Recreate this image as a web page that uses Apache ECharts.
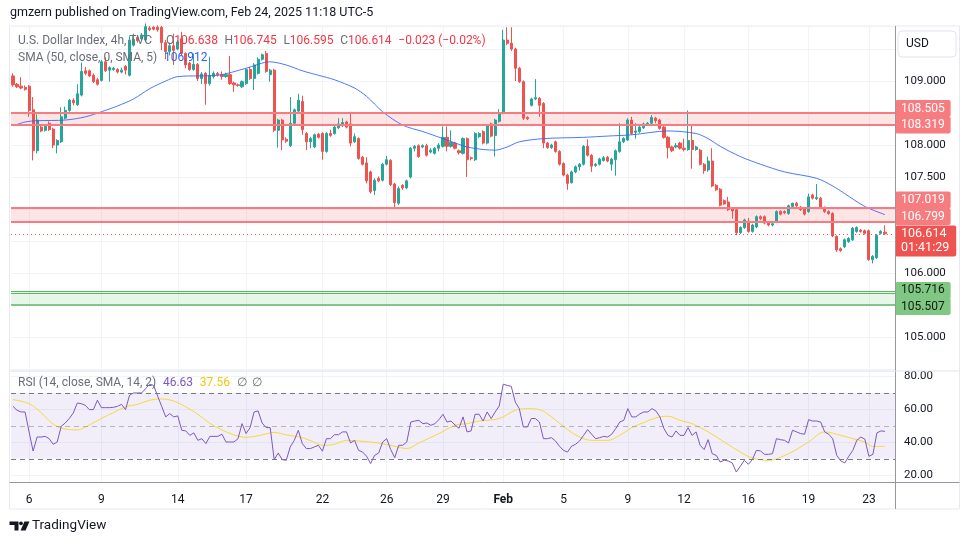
<!DOCTYPE html>
<html><head><meta charset="utf-8">
<script src="https://cdn.jsdelivr.net/npm/echarts@6/dist/echarts.min.js"></script>
<style>html,body{margin:0;padding:0;background:#fff}#c{width:970px;height:545px}</style>
</head><body><div id="c"></div>
<script>
// ---------- data (4h candles, Jan 3 - Feb 24 2025) ----------
const opens = [109.08,108.95,108.92,108.90,108.92,108.55,107.91,108.28,108.23,108.34,108.25,108.00,108.05,108.42,108.54,108.70,108.63,108.78,109.16,109.16,
109.09,109.02,109.01,109.30,109.17,109.18,109.18,109.14,109.23,109.09,109.56,109.68,109.66,109.64,109.83,109.84,109.84,109.84,109.60,109.46,
109.55,109.50,109.66,109.43,109.28,109.18,109.26,109.04,109.12,108.96,109.07,109.12,109.10,109.07,109.10,108.97,108.94,108.91,108.96,109.18,
109.04,109.12,109.34,109.43,109.10,109.17,108.23,108.39,108.09,107.99,108.34,108.53,108.68,108.18,108.05,107.97,108.17,108.18,107.90,108.18,
108.18,108.27,108.30,108.36,108.33,108.05,108.10,107.81,107.72,107.58,107.29,107.48,107.45,107.70,107.76,107.39,107.09,107.37,107.33,107.50,
107.95,107.99,107.97,107.99,107.89,107.87,107.95,107.98,108.12,107.98,108.03,107.91,107.87,108.10,107.80,107.77,108.13,108.21,108.03,108.33,
108.15,108.37,108.50,109.64,109.59,109.50,109.20,108.99,108.43,108.62,108.72,108.73,108.65,108.03,107.96,108.05,107.90,107.71,107.53,107.41,
107.58,107.66,107.70,107.98,107.84,107.68,107.70,107.76,107.81,107.70,107.77,107.90,108.05,108.08,108.39,108.20,108.21,108.27,108.33,108.34,
108.42,108.39,108.28,108.12,107.97,107.97,108.03,107.95,107.93,108.07,107.93,107.92,107.70,107.61,107.75,107.37,107.31,107.13,107.11,107.00,
106.99,106.63,106.71,106.81,106.65,106.72,106.88,106.88,106.78,106.75,106.80,106.96,106.96,106.93,107.04,107.09,107.03,107.01,106.96,107.22,
107.16,107.17,107.02,106.96,106.93,106.57,106.38,106.41,106.49,106.52,106.65,106.67,106.66,106.66,106.21,106.24,106.62,106.638];
const highs = [109.12,108.97,109.06,108.93,108.94,108.75,108.48,108.30,108.31,108.37,108.27,108.09,108.59,108.60,108.72,108.73,108.95,109.29,109.22,109.18,
109.12,109.05,109.33,109.37,109.23,109.22,109.20,109.21,109.25,109.70,109.74,109.71,109.75,109.90,109.86,109.86,109.87,109.86,109.64,109.60,
109.74,109.64,109.77,109.45,109.30,109.43,109.28,109.14,109.14,109.38,109.15,109.14,109.15,109.13,109.39,108.99,108.96,109.01,109.20,109.22,
109.28,109.37,109.43,109.47,109.19,109.19,108.41,108.41,108.12,108.75,108.57,108.80,108.77,108.20,108.13,108.18,108.19,108.20,108.20,108.24,
108.30,108.42,108.42,108.38,108.52,108.18,108.12,107.83,107.81,107.60,107.48,107.51,107.72,107.83,107.78,107.41,107.35,107.39,107.46,107.97,
108.00,108.01,108.01,108.02,107.95,107.97,108.03,108.29,108.29,108.23,108.05,107.93,108.12,108.12,107.82,108.20,108.20,108.23,108.33,108.35,
108.41,108.56,109.80,109.84,109.84,109.52,109.22,109.01,108.45,108.74,109.03,108.75,108.67,108.05,108.02,108.07,107.92,107.73,107.55,107.60,
107.68,107.72,108.00,108.09,107.86,107.72,107.80,107.83,107.83,107.80,107.93,108.34,108.12,108.42,108.44,108.34,108.30,108.35,108.36,108.47,
108.44,108.41,108.30,108.14,107.99,108.03,108.05,108.10,108.54,108.30,107.99,107.94,107.72,107.82,107.95,107.39,107.33,107.15,107.19,107.02,
107.01,106.73,106.85,106.86,106.77,106.90,106.90,106.90,106.80,106.79,106.98,106.98,106.98,107.07,107.10,107.11,107.05,107.03,107.24,107.24,
107.39,107.19,107.04,106.98,106.95,106.59,106.40,106.54,106.56,106.72,106.73,106.69,106.68,106.68,106.28,106.61,106.67,106.745];
const lows = [108.91,108.89,108.87,108.85,108.44,107.76,107.87,108.20,108.21,108.22,107.95,107.87,108.03,108.40,108.52,108.62,108.61,108.76,109.09,109.06,
108.97,108.93,108.99,109.14,108.99,109.16,109.12,109.12,109.10,109.07,109.54,109.60,109.64,109.62,109.78,109.79,109.77,109.48,109.34,109.40,
109.25,109.48,109.40,109.20,109.16,109.16,109.00,108.95,108.63,108.93,109.04,109.07,109.02,109.05,108.94,108.83,108.91,108.89,108.94,109.02,
108.86,109.10,109.32,109.13,108.99,108.20,107.96,107.92,108.03,107.97,108.32,108.51,108.16,107.92,107.95,107.95,108.10,107.77,107.88,108.13,
108.16,108.25,108.28,108.26,107.98,108.03,107.77,107.68,107.40,107.24,107.22,107.42,107.43,107.68,107.36,107.00,107.06,107.30,107.31,107.48,
107.90,107.80,107.95,107.82,107.87,107.85,107.90,107.96,107.90,107.96,107.93,107.85,107.85,107.50,107.76,107.75,108.11,108.01,108.01,108.12,
107.82,108.35,108.48,109.56,109.47,109.00,108.97,108.39,108.39,108.60,108.70,108.44,107.95,107.94,107.94,107.88,107.68,107.51,107.30,107.40,
107.56,107.60,107.68,107.82,107.58,107.66,107.68,107.74,107.73,107.60,107.52,107.88,108.03,108.06,108.16,108.10,108.19,108.25,108.31,108.32,
108.34,108.24,108.10,107.79,107.89,107.95,107.93,107.90,107.91,107.63,107.91,107.68,107.55,107.58,107.34,107.28,107.04,107.06,106.97,106.85,
106.59,106.61,106.69,106.63,106.63,106.70,106.83,106.76,106.73,106.73,106.78,106.90,106.92,106.91,107.02,107.03,106.97,106.90,106.94,107.15,
107.14,107.01,106.94,106.91,106.56,106.33,106.33,106.39,106.47,106.50,106.63,106.63,106.60,106.19,106.15,106.22,106.60,106.595];
const closes = [108.94,108.91,108.89,108.87,108.54,107.91,108.39,108.22,108.29,108.24,108.00,108.07,108.44,108.54,108.70,108.66,108.80,109.15,109.12,109.08,
108.99,108.95,109.30,109.16,109.21,109.20,109.14,109.17,109.17,109.64,109.65,109.63,109.72,109.85,109.80,109.81,109.80,109.60,109.46,109.55,
109.48,109.61,109.43,109.25,109.18,109.26,109.04,109.11,108.96,109.09,109.12,109.10,109.07,109.10,108.96,108.94,108.93,108.99,109.18,109.04,
109.25,109.34,109.41,109.15,109.17,108.23,108.39,108.08,108.06,108.34,108.55,108.70,108.24,108.05,108.10,108.16,108.12,107.90,108.18,108.15,
108.28,108.33,108.35,108.28,108.03,108.13,107.79,107.70,107.44,107.27,107.45,107.44,107.70,107.77,107.38,107.10,107.32,107.33,107.44,107.95,
107.98,107.82,107.99,107.84,107.92,107.95,108.00,108.12,107.98,108.04,107.95,107.88,108.10,107.77,107.79,108.18,108.18,108.03,108.31,108.14,
108.39,108.50,109.64,109.59,109.50,109.20,108.99,108.42,108.41,108.72,108.74,108.62,108.03,107.96,108.00,107.90,107.70,107.53,107.40,107.58,
107.66,107.70,107.98,107.84,107.67,107.70,107.78,107.80,107.75,107.78,107.91,108.05,108.10,108.39,108.18,108.22,108.28,108.33,108.34,108.43,
108.38,108.26,108.12,107.96,107.91,107.99,107.95,107.93,108.07,107.93,107.97,107.70,107.60,107.75,107.36,107.30,107.06,107.08,106.99,106.97,
106.63,106.71,106.83,106.65,106.75,106.88,106.85,106.78,106.75,106.77,106.96,106.92,106.94,107.05,107.09,107.05,106.99,106.92,107.19,107.17,
107.18,107.03,106.96,106.93,106.58,106.36,106.35,106.52,106.54,106.70,106.71,106.65,106.62,106.21,106.26,106.59,106.65,106.614];

// SMA(50) read at sampled candles
const smaIdx = [0,3,6,13,18,22,26,30,34,38,41,51,58,64,68,72,76,80,85,88,92,97,102,107,111,113,117,120,123,126,132,142,148,154,163,170,173,176,181,186,192,200,204,207,212,217];
const smaVal = [108.30,108.36,108.38,108.39,108.44,108.52,108.61,108.72,108.88,109.00,109.07,109.09,109.20,109.30,109.25,109.16,109.09,109.02,108.89,108.76,108.52,108.31,108.21,108.10,108.01,107.97,107.93,107.92,107.97,108.05,108.10,108.12,108.14,108.16,108.22,108.18,108.10,107.98,107.82,107.70,107.58,107.48,107.36,107.24,107.04,106.912];

// RSI(14), one value per candle
const rsiValues = [61.8,59.4,58.4,58.4,46.3,34.7,43.2,43.2,43.6,42.2,38.8,40.2,49.7,51.7,54.4,57.8,63.8,63.4,62.4,59.8,
59.8,65.5,61.0,61.0,61.0,61.2,61.8,63.0,59.8,68.5,69.9,69.9,69.9,72.5,75.2,74.5,68.0,61.8,55.4,57.4,
55.4,56.0,47.3,46.9,44.2,45.7,41.2,42.2,39.2,43.6,43.6,43.6,44.9,40.2,40.2,40.2,42.2,51.3,45.3,48.9,
58.4,59.0,51.7,48.9,48.9,29.5,33.5,29.5,29.1,37.2,41.2,47.3,39.2,36.2,36.2,37.2,38.2,34.6,42.2,42.2,
44.6,44.6,46.3,46.3,39.6,41.2,35.1,34.1,31.5,27.1,32.1,33.5,40.2,42.2,35.6,30.7,38.2,38.2,40.2,52.3,
52.9,53.3,51.3,51.7,50.3,51.3,53.7,57.0,52.3,52.9,50.5,48.5,55.4,46.3,46.9,57.0,57.0,52.9,58.4,54.4,
58.4,62.0,75.2,74.5,73.9,64.4,60.4,49.3,49.3,54.4,54.4,52.3,42.2,42.2,42.8,40.8,37.6,35.1,34.1,37.6,
38.8,40.8,44.2,47.7,44.9,42.2,42.8,43.6,43.2,44.9,48.3,52.3,53.3,60.4,55.4,55.4,57.2,58.4,58.4,60.4,
59.0,55.4,48.3,44.2,43.2,46.9,44.2,44.2,48.9,44.2,46.3,38.2,35.6,41.6,33.1,32.1,28.1,29.1,28.7,27.5,
22.0,25.5,29.1,26.7,29.5,35.1,34.8,32.7,32.7,33.1,42.2,41.6,41.2,39.6,47.3,46.3,45.3,44.9,53.7,52.9,
52.9,52.3,46.3,44.9,42.2,32.1,28.7,27.5,31.5,35.1,41.2,43.2,41.9,31.5,32.7,45.7,46.9,46.63];

// RSI-based MA(14) read at sampled candles
const rsiMaIdx = [0,4,7,10,13,16,19,22,25,28,31,34,37,40,43,46,49,52,55,58,62,65,68,72,75,77,80,83,86,91,95,98,101,106,110,113,116,121,125,128,131,134,138,141,144,148,151,154,157,160,163,166,169,173,177,181,184,188,193,198,202,206,209,212,214,217];
const rsiMaVal = [65.9,63.4,58.0,51.0,48.0,47.5,50.5,54.5,58.0,61.5,63.0,65.5,66.3,65.0,61.5,57.0,51.5,47.5,44.5,43.0,44.5,46.0,44.5,42.8,40.0,38.2,38.8,41.2,40.8,39.6,37.6,36.2,39.6,45.3,50.3,51.3,52.9,54.4,59.4,60.4,59.8,55.4,47.7,43.2,41.2,41.2,44.2,48.9,52.0,54.8,55.8,53.3,51.3,46.3,40.2,34.1,30.5,29.1,33.1,40.2,46.3,44.2,42.2,40.2,37.5,37.56];

// date tick labels
const tickIdx  = [4,22,41,58,77,93,107,122,137,153,167,183,198,213];
const tickText = ['6','9','14','17','22','26','29','Feb','5','9','12','16','19','23'];

// horizontal zones / levels
const redZoneA = [108.319, 108.505];
const redZoneB = [106.799, 107.019];
const greenZone = [105.507, 105.716];
const greenExtraLine = [105.683];
const countdown = '01:41:29';
const smaLast = 106.912;
const rsiLast = 46.63, rsiMaLast = 37.56;

// ---------- chart ----------
const N = 220;
const cats = Array.from({length: N}, (_, i) => String(i));
const candles = opens.map((o, i) => [o, closes[i], lows[i], highs[i]]);
const tickSet = new Set(tickIdx);
const FONT = 'Roboto';
const last = closes.length - 1;
const prevClose = 106.637;

const hideMain = new Set(['108.500','107.000','106.500','105.500','104.500']);

function lvlLabel(bg, fg, offY, txt) {
  return {show: true, position: 'end', distance: 0, formatter: txt, color: fg, backgroundColor: bg,
    padding: [2, 6, 2, 6], fontSize: 12, lineHeight: 13, fontFamily: FONT, borderRadius: 2, offset: [0, offY]};
}
const redLine = {color: '#f77c80', width: 2, type: 'solid'};
const greenLine = {color: '#81c784', width: 2, type: 'solid'};
const greenThin = {color: '#5cb860', width: 1.2, type: 'solid'};

const chart = echarts.init(document.getElementById('c'));
chart.setOption({
  animation: false,
  backgroundColor: '#ffffff',
  textStyle: {fontFamily: FONT},
  grid: [
    {left: 11, right: 75, top: 26.5, height: 344.5},
    {left: 11, right: 75, top: 371, height: 111.5}
  ],
  xAxis: [
    {type: 'category', gridIndex: 0, data: cats, boundaryGap: true,
      axisLine: {show: false}, axisTick: {show: false}, axisLabel: {show: false},
      splitLine: {show: true, alignWithLabel: true, interval: (i) => tickSet.has(i), lineStyle: {color: '#f0f3fa', width: 1}}},
    {type: 'category', gridIndex: 1, data: cats, boundaryGap: true,
      axisLine: {show: false}, axisTick: {show: false},
      axisLabel: {show: true, interval: (i) => tickSet.has(i), margin: 11, fontSize: 12, color: '#131722', fontFamily: FONT,
        formatter: (v, i) => { const k = tickIdx.indexOf(Number(v)); if (k < 0) return ''; const t = tickText[k]; return isNaN(Number(t)) ? '{b|' + t + '}' : t; },
        rich: {b: {fontWeight: 'bold', fontSize: 12, color: '#131722', fontFamily: FONT}}},
      splitLine: {show: true, alignWithLabel: true, interval: (i) => tickSet.has(i), lineStyle: {color: '#f0f3fa', width: 1}}}
  ],
  yAxis: [
    {type: 'value', gridIndex: 0, position: 'right', min: 104.469, max: 109.852, splitNumber: 10,
      axisLine: {show: false}, axisTick: {show: false},
      axisLabel: {margin: 9, fontSize: 11.5, color: '#131722', fontFamily: FONT, showMinLabel: false, showMaxLabel: false,
        formatter: (v) => { const s = v.toFixed(3); return hideMain.has(s) ? '' : s; }},
      splitLine: {show: true, lineStyle: {color: '#f0f3fa'}}},
    {type: 'value', gridIndex: 1, position: 'right', min: 15.64, max: 83.21, splitNumber: 3,
      axisLine: {show: false}, axisTick: {show: false},
      axisLabel: {margin: 9, fontSize: 11.5, color: '#131722', fontFamily: FONT, showMinLabel: false, showMaxLabel: false,
        formatter: (v) => v.toFixed(2)},
      splitLine: {show: true, lineStyle: {color: '#f0f3fa'}}}
  ],
  series: [
    {type: 'candlestick', xAxisIndex: 0, yAxisIndex: 0, data: candles, barWidth: 2.6, clip: true,
      itemStyle: {color: '#26a69a', color0: '#ef5350', borderColor: '#26a69a', borderColor0: '#ef5350', borderWidth: 1},
      markArea: {silent: true, data: [
        [{yAxis: redZoneA[0], itemStyle: {color: 'rgba(247,124,128,0.2)'}}, {yAxis: redZoneA[1]}],
        [{yAxis: redZoneB[0], itemStyle: {color: 'rgba(247,124,128,0.2)'}}, {yAxis: redZoneB[1]}],
        [{yAxis: greenZone[0], itemStyle: {color: 'rgba(129,199,132,0.18)'}}, {yAxis: greenZone[1]}]
      ]},
      markLine: {silent: true, symbol: 'none', animation: false, lineStyle: {type: 'solid'}, data: [
        {yAxis: redZoneA[1], lineStyle: redLine, label: lvlLabel('#f77c80', '#ffffff', -4.5, redZoneA[1].toFixed(3))},
        {yAxis: redZoneA[0], lineStyle: redLine, label: lvlLabel('#f77c80', '#ffffff', 0.5, redZoneA[0].toFixed(3))},
        {yAxis: redZoneB[1], lineStyle: redLine, label: lvlLabel('#f77c80', '#ffffff', -7.8, redZoneB[1].toFixed(3))},
        {yAxis: redZoneB[0], lineStyle: redLine, label: lvlLabel('#f77c80', '#ffffff', -5.2, redZoneB[0].toFixed(3))},
        {yAxis: greenZone[1], lineStyle: greenThin, label: lvlLabel('#81c784', '#0b1f0c', -0.5, greenZone[1].toFixed(3))},
        {yAxis: greenExtraLine[0], lineStyle: greenThin, label: {show: false}},
        {yAxis: greenZone[0], lineStyle: greenLine, label: lvlLabel('#81c784', '#0b1f0c', 2.2, greenZone[0].toFixed(3))},
        {yAxis: closes[last], lineStyle: {color: '#ef5350', width: 1, type: [1, 3]},
          label: Object.assign(lvlLabel('#ef5350', '#ffffff', 7, closes[last].toFixed(3) + '\n' + countdown), {padding: [2, 7, 2, 6], lineHeight: 13.5, fontSize: 12.5})}
      ]}
    },
    {type: 'line', xAxisIndex: 0, yAxisIndex: 0, data: smaIdx.map((x, k) => [x, smaVal[k]]), showSymbol: false, smooth: 0.3,
      lineStyle: {color: '#2962ff', width: 1, opacity: 0.85}, z: 3, silent: true},
    {type: 'line', xAxisIndex: 1, yAxisIndex: 1, data: rsiValues, showSymbol: false,
      lineStyle: {color: '#7e57c2', width: 1}, z: 4, silent: true,
      markArea: {silent: true, data: [[{yAxis: 30, itemStyle: {color: 'rgba(126,87,194,0.1)'}}, {yAxis: 70}]]},
      markLine: {silent: true, symbol: 'none', label: {show: false}, data: [
        {yAxis: 70, lineStyle: {color: '#787b86', width: 1, type: [5, 4]}},
        {yAxis: 50, lineStyle: {color: 'rgba(120,123,134,0.5)', width: 1, type: [5, 4]}},
        {yAxis: 30, lineStyle: {color: '#787b86', width: 1, type: [5, 4]}}
      ]}},
    {type: 'line', xAxisIndex: 1, yAxisIndex: 1, data: rsiMaIdx.map((x, k) => [x, rsiMaVal[k]]), showSymbol: false, smooth: 0.35,
      lineStyle: {color: '#f5d93a', width: 1}, z: 3, silent: true}
  ],
  graphic: [
    {type: 'rect', silent: true, z: -1, shape: {x: 9.5, y: 26, width: 950, height: 483}, style: {fill: 'none', stroke: '#e8eaf0', lineWidth: 1}},
    {type: 'line', silent: true, z: 10, shape: {x1: 895.5, y1: 26, x2: 895.5, y2: 509}, style: {stroke: '#9598a1', lineWidth: 1}},
    {type: 'line', silent: true, z: 10, shape: {x1: 9.5, y1: 482.5, x2: 959.5, y2: 482.5}, style: {stroke: '#9598a1', lineWidth: 1}},
    {type: 'line', silent: true, z: 10, shape: {x1: 9.5, y1: 371, x2: 959.5, y2: 371}, style: {stroke: '#e0e3eb', lineWidth: 1}},
    {type: 'text', silent: true, left: 10, top: 6, style: {text: 'gmzern published on TradingView.com, Feb 24, 2025 11:18 UTC-5', font: '12.5px ' + FONT, fill: '#131722'}},
    {type: 'rect', silent: true, z: 20, shape: {x: 898, y: 31, width: 58, height: 26, r: 4}, style: {fill: '#ffffff', stroke: '#e0e3eb', lineWidth: 1}},
    {type: 'text', silent: true, z: 21, left: 906, top: 38, style: {text: 'USD', font: '12px ' + FONT, fill: '#131722'}},
    // legends
    {type: 'text', silent: true, z: 30, left: 18, top: 35, style: {text: 'U.S. Dollar Index, 4h, TVC', font: '12px ' + FONT, fill: '#6a6d78'}},
    {type: 'text', silent: true, z: 30, left: 166, top: 35, style: {
      text: '{g|O}{r|' + opens[last].toFixed(3) + '}  {g|H}{r|' + highs[last].toFixed(3) + '}  {g|L}{r|' + lows[last].toFixed(3) + '}  {g|C}{r|' + closes[last].toFixed(3) + '}  {r|\u2212' + (prevClose - closes[last]).toFixed(3) + ' (\u2212' + ((prevClose - closes[last]) / prevClose * 100).toFixed(2) + '%)}',
      rich: {g: {font: '12px ' + FONT, fill: '#6a6d78'}, r: {font: '12px ' + FONT, fill: '#f23645'}}}},
    {type: 'text', silent: true, z: 30, left: 18, top: 52, style: {text: '{g|SMA (50, close, 0, SMA, 5)}  {b|' + smaLast.toFixed(3) + '}',
      rich: {g: {font: '12px ' + FONT, fill: '#6a6d78'}, b: {font: '12px ' + FONT, fill: '#2962ff'}}}},
    {type: 'text', silent: true, z: 30, left: 18, top: 377, style: {text: '{g|RSI (14, close, SMA, 14, 2)}  {p|' + rsiLast.toFixed(2) + '}  {y|' + rsiMaLast.toFixed(2) + '}  {g|\u2205  \u2205}',
      rich: {g: {font: '12px ' + FONT, fill: '#6a6d78'}, p: {font: '12px ' + FONT, fill: '#7e57c2'}, y: {font: '12px ' + FONT, fill: '#f2c811'}}}},
    // TradingView logo
    {type: 'polygon', silent: true, shape: {points: [[9.5, 521.5], [18.5, 521.5], [18.5, 530.5], [14.5, 530.5], [14.5, 525], [9.5, 525]]}, style: {fill: '#131722'}},
    {type: 'circle', silent: true, shape: {cx: 21, cy: 523.3, r: 1.9}, style: {fill: '#131722'}},
    {type: 'polygon', silent: true, shape: {points: [[24.5, 521.5], [29.5, 521.5], [25.5, 530.5], [20.5, 530.5]]}, style: {fill: '#131722'}},
    {type: 'text', silent: true, left: 32, top: 519, style: {text: 'TradingView', font: '13.5px ' + FONT, fill: '#131722'}}
  ]
});
</script></body></html>
